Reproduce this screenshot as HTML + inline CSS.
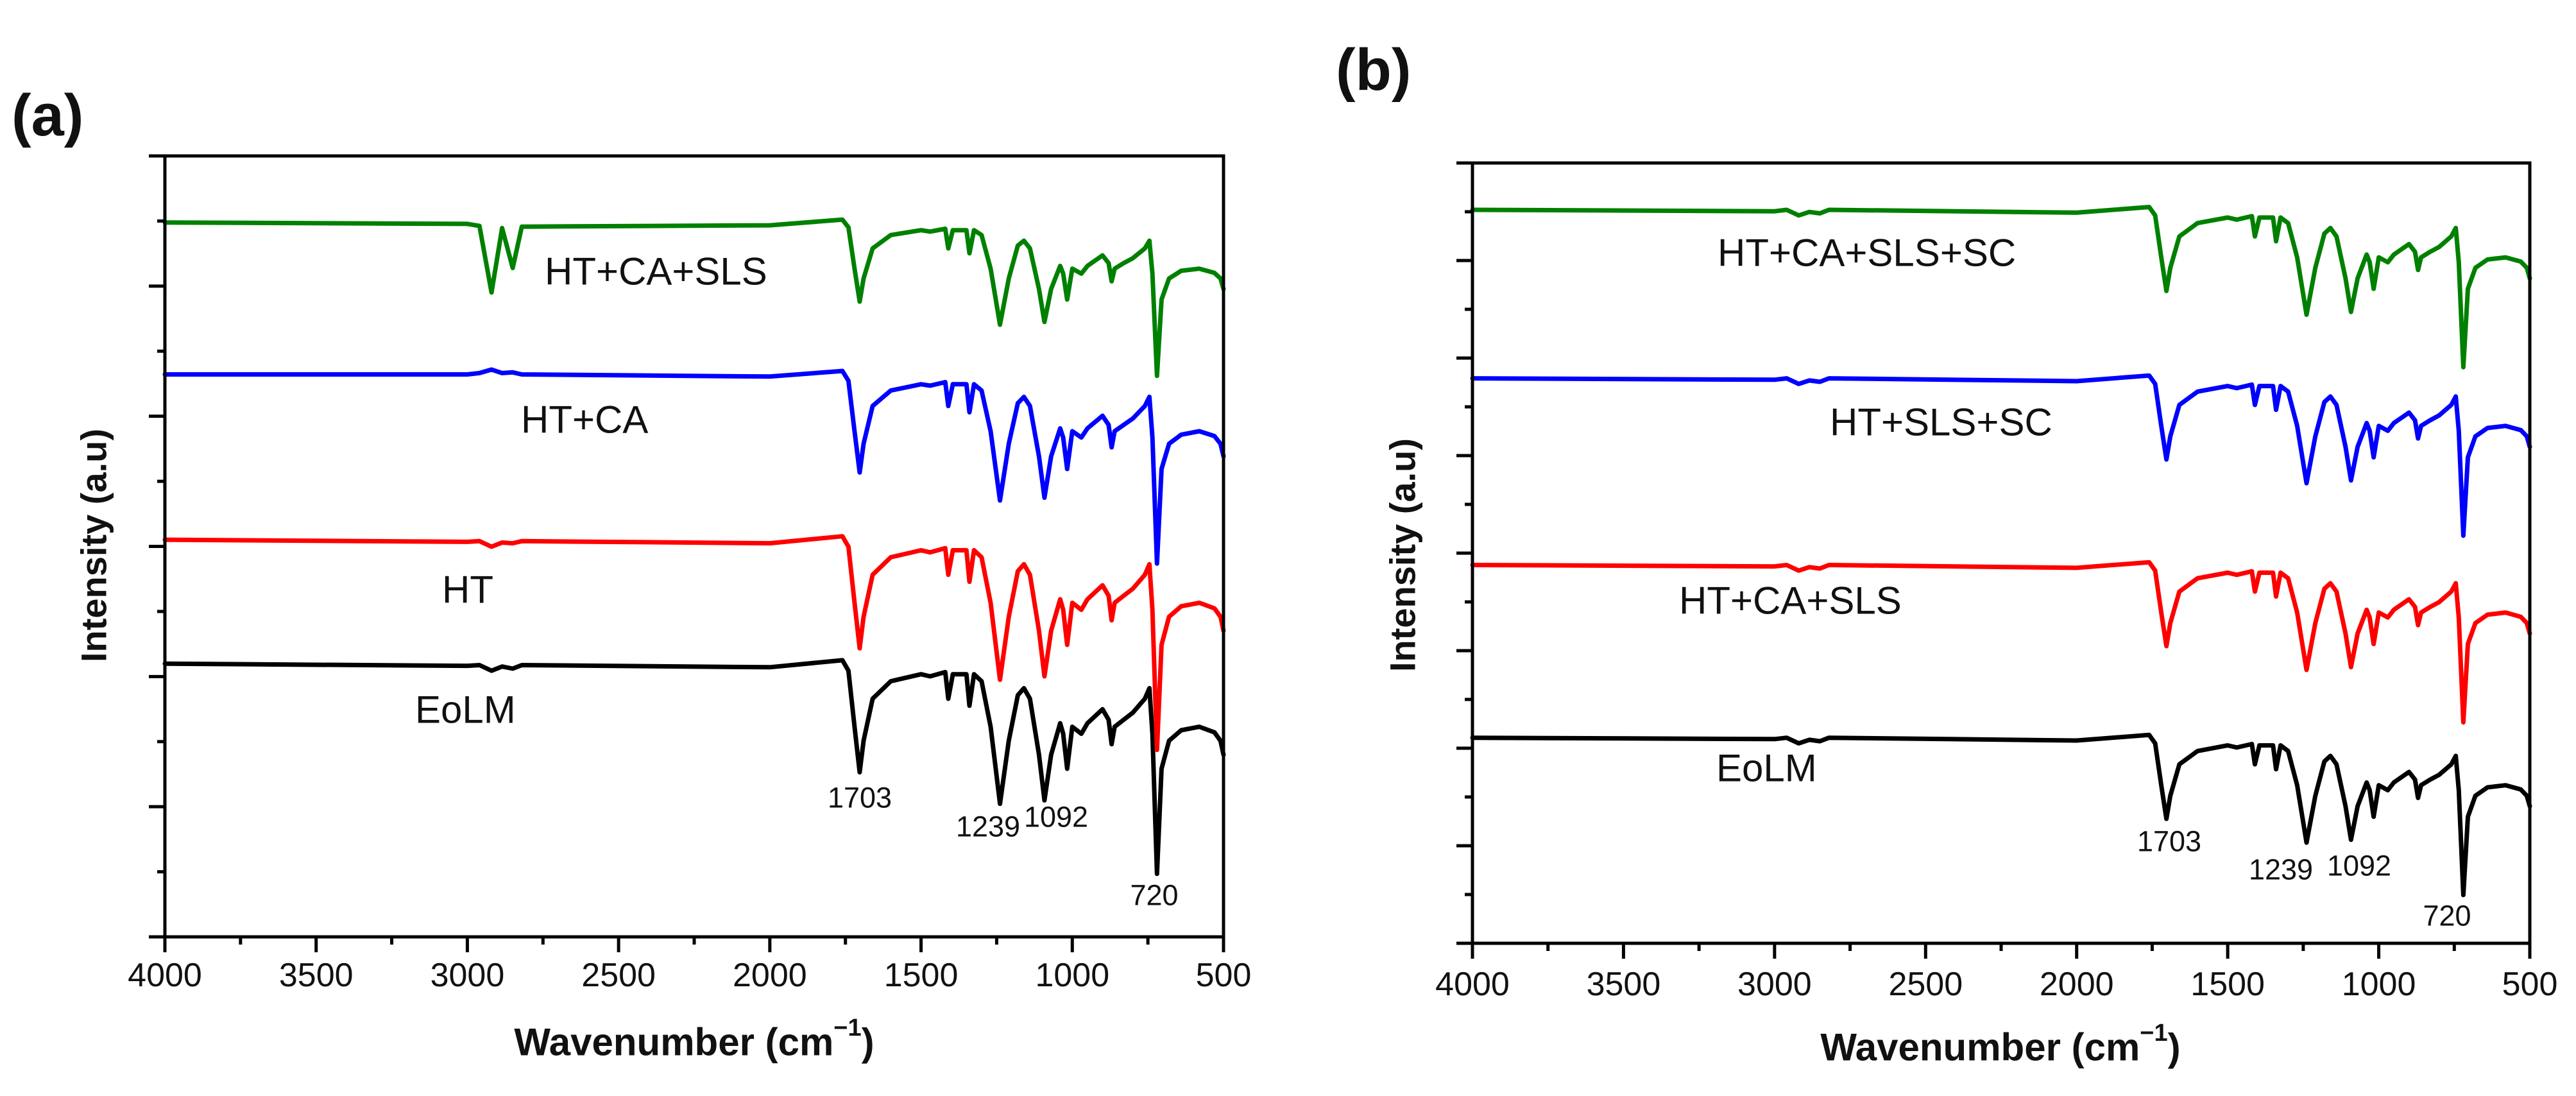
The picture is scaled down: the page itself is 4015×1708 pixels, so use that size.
<!DOCTYPE html>
<html><head><meta charset="utf-8"><style>
html,body{margin:0;padding:0;background:#fff;}
svg{display:block;font-family:"Liberation Sans",Arial,sans-serif;}
</style></head><body>
<svg id="fig" width="4015" height="1708" viewBox="0 0 4015 1708"></svg>
<script>
const wavenumbers = [4000,3000,2960,2920,2885,2850,2820,2000,1760,1740,1720,1703,1690,1660,1600,1500,1470,1420,1410,1395,1350,1340,1325,1300,1270,1239,1210,1180,1160,1140,1110,1092,1070,1040,1030,1017,1000,970,950,900,880,870,860,830,800,760,745,735,720,705,680,640,580,530,510,500];
const xTicks = [4000,3500,3000,2500,2000,1500,1000,500];
const peakLabels = ["1703","1239","1092","720"];

const aEoLM = [390,387,388,380,386,383,388,385,395,380,300,235,280,340,365,375,372,378,340,375,375,330,375,365,300,190,280,345,355,340,260,195,260,305,290,240,300,290,305,325,310,275,300,310,320,340,355,290,90,240,280,295,300,292,280,260];
const aHT = [567,564,565,557,563,562,565,562,572,557,477,412,457,517,542,552,549,555,517,552,552,507,552,542,477,367,457,522,532,517,437,372,437,482,467,417,477,467,482,502,487,452,477,487,497,517,532,467,267,417,457,472,477,469,457,437];
const aHTCA = [803,803,805,810,805,806,803,800,808,794,722,663,704,758,780,789,787,792,758,789,789,749,789,780,722,623,704,762,771,758,686,627,686,726,713,668,722,713,726,744,731,699,722,731,740,758,771,713,533,668,704,717,722,715,704,686];
const aHTCASLS = [1020,1018,1015,920,1012,955,1014,1016,1024,1013,954,907,940,983,1002,1009,1007,1011,983,1009,1009,976,1009,1002,954,874,940,987,994,983,925,878,925,958,947,910,954,947,958,973,962,936,954,962,969,983,994,947,801,910,940,951,954,948,940,925];

const bEoLM = [294,292,294,286,291,289,294,290,298,286,226,178,211,256,275,283,280,285,256,283,283,249,283,275,226,144,211,260,268,256,196,148,196,230,219,181,226,219,230,245,234,208,226,234,241,256,268,219,69,181,211,223,226,220,211,196];
const bHTCASLS = [541,539,541,533,538,536,541,537,545,533,473,425,458,503,522,530,527,532,503,530,530,496,530,522,473,391,458,507,515,503,443,395,443,477,466,428,473,466,477,492,481,455,473,481,488,503,515,466,316,428,458,470,473,467,458,443];
const bHTSLSSC = [808,806,808,800,805,803,808,804,812,800,740,692,725,770,789,797,794,799,770,797,797,763,797,789,740,658,725,774,782,770,710,662,710,744,733,695,740,733,744,759,748,722,740,748,755,770,782,733,583,695,725,737,740,734,725,710];
const bHTCASLSSC = [1049,1047,1049,1041,1046,1044,1049,1045,1053,1041,981,933,966,1011,1030,1038,1035,1040,1011,1038,1038,1004,1038,1030,981,899,966,1015,1023,1011,951,903,951,985,974,936,981,974,985,1000,989,963,981,989,996,1011,1023,974,824,936,966,978,981,975,966,951];

const NS = "http://www.w3.org/2000/svg";
const svg = document.getElementById('fig');
function mk(tag, attrs, parent){
  const e = document.createElementNS(NS, tag);
  for (const k in attrs) e.setAttribute(k, attrs[k]);
  (parent||svg).appendChild(e);
  return e;
}
function txt(s, x, y, size, weight, anchor, name, parent){
  const t = mk('text', {x:x, y:y, 'font-size':size, 'font-weight':weight, 'text-anchor':anchor, 'dominant-baseline':'central', fill:'#111'}, parent);
  t.textContent = s;
  
  
  return t;
}

function panel(cfg){
  const g = mk('g', {});
  
  
  const L=cfg.left, R=cfg.right, T=cfg.top, B=cfg.bottom;
  const xs = v => L + (4000 - v) / 3500 * (R - L);
  const ys = v => B - v / cfg.ymax * (B - T);
  // series
  cfg.series.forEach(s => {
    const pts = wavenumbers.map((w,i) => xs(w).toFixed(1) + ',' + ys(s.values[i]).toFixed(1)).join(' ');
    const p = mk('polyline', {points:pts, fill:'none', stroke:s.color, 'stroke-width':7, 'stroke-linejoin':'round', 'stroke-linecap':'round'}, g);
    
    
    txt(s.label, s.lx, s.ly, 60, 'normal', 'start', s.name + '-label', g);
  });
  // frame
  const fr = mk('rect', {x:L, y:T, width:R-L, height:B-T, fill:'none', stroke:'#000', 'stroke-width':5}, g);
  
  
  // x ticks
  for (let v = 4000; v >= 500; v -= 250) {
    const major = (v % 500 === 0);
    const tk = mk('line', {x1:xs(v), x2:xs(v), y1:B, y2:B + (major?24:12), stroke:'#000', 'stroke-width':5}, g);
    
    
  }
  xTicks.forEach(v => txt(String(v), xs(v), cfg.tickY, 52, 'normal', 'middle', 'x-tick-label', g));
  // y ticks
  for (let i = 0; i <= cfg.ny; i++) {
    const y = T + i * (B - T) / cfg.ny;
    const major = (i % 2 === 0);
    const tk = mk('line', {x1:L, x2:L - (major?25:12), y1:y, y2:y, stroke:'#000', 'stroke-width':5}, g);
    
    
  }
  // peak labels
  cfg.peaks.forEach((p,i) => txt(peakLabels[i], p[0], p[1], 45, 'normal', 'middle', 'peak-label', g));
  // titles
  txt(cfg.tag, cfg.tagX, cfg.tagY, 92, 'bold', 'start', 'panel-label', g);
  const yt = txt('Intensity (a.u)', 0, 0, 56, 'bold', 'middle', 'y-axis-title', g);
  yt.setAttribute('transform', 'translate(' + cfg.ytX + ',' + cfg.ytY + ') rotate(-90)');
  const xt = mk('text', {x:cfg.xtX, y:cfg.xtY, 'font-size':60, 'font-weight':'bold', 'text-anchor':'middle', 'dominant-baseline':'central', fill:'#111'}, g);
  
  
  xt.innerHTML = 'Wavenumber (cm<tspan font-size="38" dy="-22">−1</tspan><tspan dy="22">)</tspan>';
}

panel({name:'panel-a', left:257, right:1907, top:243, bottom:1460, ymax:1115, ny:12, tickY:1520,
  tag:'(a)', tagX:18, tagY:180, ytX:146, ytY:850, xtX:1082, xtY:1624,
  peaks:[[1340,1243],[1540,1288],[1646,1273],[1799,1395]],
  series:[
    {name:'series-eolm-a', label:'EoLM', values:aEoLM, color:'#000', lx:647, ly:1106},
    {name:'series-ht-a', label:'HT', values:aHT, color:'#f00', lx:689, ly:919},
    {name:'series-ht-ca-a', label:'HT+CA', values:aHTCA, color:'#00f', lx:812, ly:654},
    {name:'series-ht-ca-sls-a', label:'HT+CA+SLS', values:aHTCASLS, color:'#008000', lx:849, ly:423}
  ]});
panel({name:'panel-b', left:2295, right:3943, top:254, bottom:1470, ymax:1116, ny:16, tickY:1534,
  tag:'(b)', tagX:2082, tagY:109, ytX:2186, ytY:865, xtX:3118, xtY:1632,
  peaks:[[3381,1311],[3555,1355],[3677,1349],[3814,1427]],
  series:[
    {name:'series-eolm-b', label:'EoLM', values:bEoLM, color:'#000', lx:2675, ly:1197},
    {name:'series-ht-ca-sls-b', label:'HT+CA+SLS', values:bHTCASLS, color:'#f00', lx:2617, ly:936},
    {name:'series-ht-sls-sc-b', label:'HT+SLS+SC', values:bHTSLSSC, color:'#00f', lx:2852, ly:658},
    {name:'series-ht-ca-sls-sc-b', label:'HT+CA+SLS+SC', values:bHTCASLSSC, color:'#008000', lx:2677, ly:394}
  ]});
</script>
</body></html>
